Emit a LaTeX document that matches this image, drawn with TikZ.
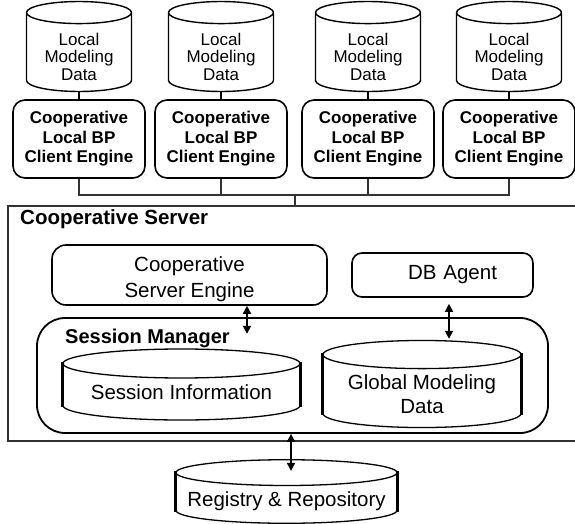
\documentclass[tikz,border=0pt]{standalone}
\usepackage{fontspec}
\setmainfont{Liberation Sans}
\usetikzlibrary{arrows.meta, positioning, shapes.geometric}

\tikzset{
  localdb/.style={cylinder, shape border rotate=90, aspect=0.32, draw, line width=1.4pt,
    minimum width=105pt, minimum height=83pt, inner sep=0pt, anchor=shape center,
    align=center, font=\fontsize{17}{17.5}\selectfont},
  client/.style={rectangle, rounded corners=12pt, draw, line width=1.6pt,
    minimum width=132pt, minimum height=78pt, align=center, inner sep=0pt,
    font=\bfseries\fontsize{17}{19.5}\selectfont},
  srvbox/.style={rectangle, rounded corners=14pt, draw, line width=1.6pt,
    align=center, inner sep=0pt, font=\fontsize{20.5}{26}\selectfont},
  bigdb/.style={cylinder, shape border rotate=90, draw, line width=1.3pt, anchor=shape center,
    align=center, inner sep=0pt, font=\fontsize{20.5}{24}\selectfont},
  thickside/.style={line width=3.2pt, line cap=rect},
  dbl/.style={{Triangle[length=8pt,width=8pt]}-{Triangle[length=8pt,width=8pt]}, line width=1.8pt},
  bus/.style={draw=black!80, line width=1.2pt},
  title/.style={anchor=base west, inner sep=0pt, font=\bfseries\fontsize{20.5}{24}\selectfont},
}

\begin{document}
\begin{tikzpicture}[x=1pt, y=-1pt]
  \clip (0,0) rectangle (575,524);

  % local clients
  \foreach \i/\x in {1/79, 2/221, 3/368, 4/509} {
    \node[localdb] (db\i) at (\x,46.5) {\rule{0pt}{21pt}Local\\Modeling\\Data};
    \node[client] (cl\i) at (\x,139) {Cooperative\\Local BP\\Client Engine};
    \draw[line width=1.2pt] (db\i.bottom) -- (cl\i.north);
  }

  % cooperative server
  \node[draw=black!80, line width=1.5pt, rectangle, inner sep=0pt,
        minimum width=580pt, minimum height=235pt, anchor=north west] (srv) at (7,205) {};
  \node[title] (srvlabel) at (20,224) {Cooperative Server};

  \coordinate (tap) at (295,195);
  \draw[bus] (cl1.south) |- (tap);
  \draw[bus] (cl4.south) |- (tap);
  \draw[bus] (cl2.south) -- (cl2.south |- tap);
  \draw[bus] (cl3.south) -- (cl3.south |- tap);
  \draw[bus] (tap) -- (tap |- srv.north);

  \node[srvbox, minimum width=275pt, minimum height=60pt] (eng) at (189.5,275) {\rule{0pt}{23pt}Cooperative\\Server Engine};
  \node[srvbox, rounded corners=10pt, minimum width=181pt, minimum height=44pt,
        text width=109pt, align=right] (agent) at (442.5,275) {DB Agent};

  \node[draw, line width=1.8pt, rectangle, rounded corners=28pt,
        minimum width=511pt, minimum height=115pt] (sm) at (292.5,375.5) {};
  \node[title, font=\bfseries\fontsize{20}{24}\selectfont] (smlabel) at (65,343) {Session Manager};

  \node[bigdb, aspect=0.16, minimum width=237pt, minimum height=71pt] (sinfo) at (181.5,384.5) {Session Information};
  \node[bigdb, aspect=0.19, minimum width=198pt, minimum height=72pt] (gdata) at (422,384) {\rule{0pt}{20pt}Global Modeling\\Data};
  \node[bigdb, aspect=0.13, minimum width=221pt, minimum height=57pt] (reg) at (286.5,491.5) {\rule{0pt}{20pt}Registry \& Repository};

  \foreach \n in {sinfo, gdata, reg} {
    \draw[thickside] (\n.before top) -- (\n.after bottom);
    \draw[thickside] (\n.after top) -- (\n.before bottom);
  }

  \draw[dbl] ([xshift=57.5pt]eng.south) -- ++(0,28);
  \draw[dbl] ([xshift=6.5pt,yshift=-6pt]agent.south) -- ++(0,35);
  \draw[dbl] ([xshift=-1.5pt]sm.south) -- ++(0,37);
\end{tikzpicture}
\end{document}
